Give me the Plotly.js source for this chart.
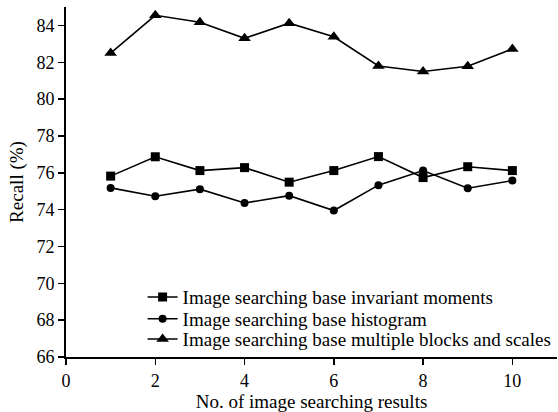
<!DOCTYPE html>
<html><head><meta charset="utf-8">
<script src="https://cdn.plot.ly/plotly-3.0.1.min.js"></script>
<style>html,body{margin:0;padding:0;background:#fff}</style>
</head><body><div id="chart" style="width:558px;height:412px"></div>
<script>
const xValues = [1,2,3,4,5,6,7,8,9,10];
const moments = [75.82,76.87,76.12,76.28,75.49,76.12,76.88,75.74,76.33,76.12];
const histogram = [75.18,74.73,75.11,74.36,74.76,73.95,75.33,76.12,75.16,75.58];
const multiBlocks = [82.5,84.55,84.17,83.3,84.12,83.38,81.8,81.5,81.78,82.72];
const seriesNames = ["Image searching base invariant moments","Image searching base histogram","Image searching base multiple blocks and scales"];
const symbols = ["square","circle","triangle-up"];
const fam = "Liberation Serif, Times New Roman, serif";
const all = [moments, histogram, multiBlocks];
const legendIds = ["legend","legend2","legend3"];
const traces = all.map((ys,i)=>({
  x:xValues, y:ys, name:seriesNames[i], type:"scatter", mode:"lines+markers",
  legend:legendIds[i],
  line:{color:"#000", width:1.6},
  marker:{symbol:symbols[i], color:"#000", size:i===2?11:(i===0?9:8)}
}));
const legY = [0.171, 0.109, 0.051];
const mkLeg = (y)=>({x:0.156, y:y, xanchor:"left", yanchor:"middle", bgcolor:"rgba(0,0,0,0)",
  font:{family:fam,size:19,color:"#000"}, borderwidth:0});
const layout = {
  width:558, height:412,
  margin:{l:66, r:1, t:7, b:55},
  paper_bgcolor:"#fff", plot_bgcolor:"#fff",
  font:{family:fam, size:18, color:"#000"},
  showlegend:true,
  legend:mkLeg(legY[0]), legend2:mkLeg(legY[1]), legend3:mkLeg(legY[2]),
  xaxis:{range:[0,11], tickvals:[0,2,4,6,8,10], showline:true, linecolor:"#000", linewidth:2,
    ticks:"outside", ticklen:6, tickwidth:1.5, tickcolor:"#000", showgrid:false, zeroline:false,
    tickfont:{family:fam,size:18,color:"#000"},
    title:{text:"No. of image searching results", font:{family:fam,size:19,color:"#000"}, standoff:8}},
  yaxis:{range:[66,85], tickvals:[66,68,70,72,74,76,78,80,82,84], showline:true, linecolor:"#000", linewidth:2,
    ticks:"outside", ticklen:6, tickwidth:1.5, tickcolor:"#000", showgrid:false, zeroline:false,
    tickfont:{family:fam,size:18,color:"#000"},
    title:{text:"Recall (%)", font:{family:fam,size:19,color:"#000"}, standoff:8}}
};
Plotly.newPlot("chart", traces, layout, {displayModeBar:false, staticPlot:true});
</script></body></html>
